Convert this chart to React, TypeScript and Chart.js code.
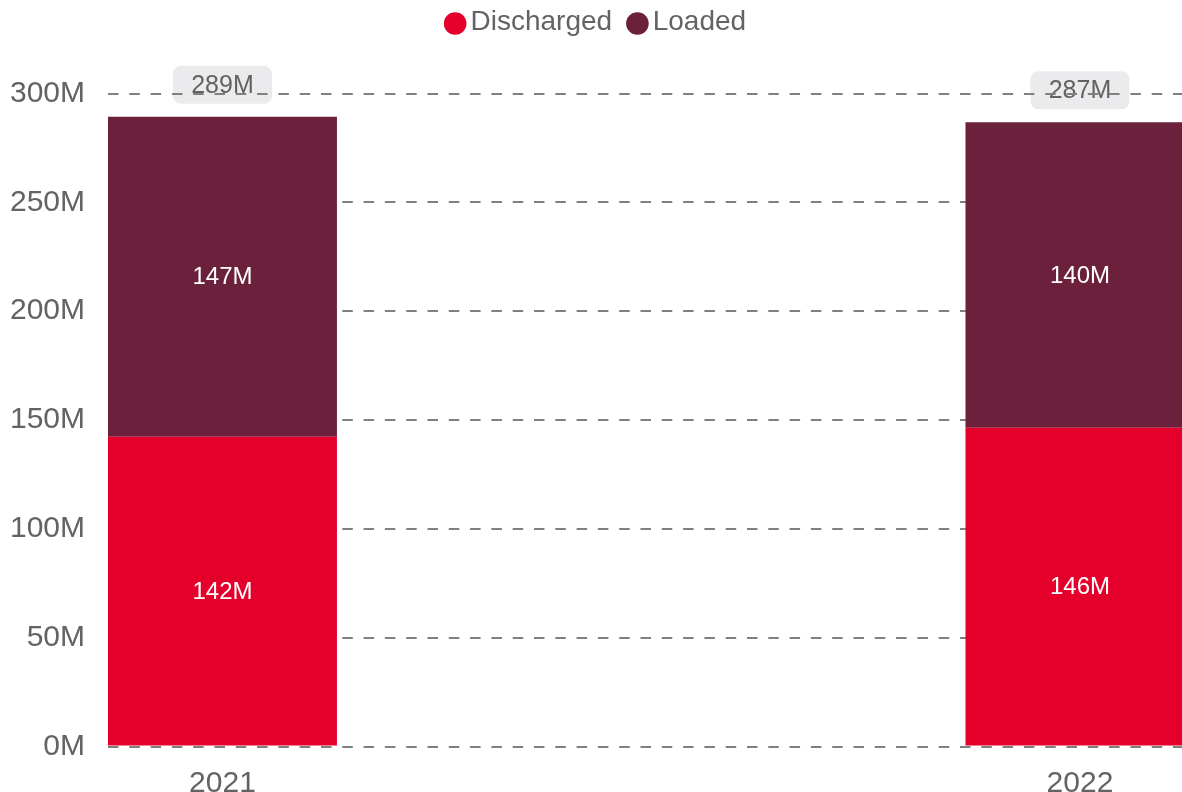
import React, { useEffect, useRef } from 'react';
import { Chart, registerables } from 'chart.js';
Chart.register(...registerables);

const years = [2021, 2022];
const discharged = [142.3, 146.4];
const loaded = [147.0, 140.4];
const seriesNames = ['Discharged', 'Loaded'];
const seriesColors = ['#e4002b', '#6b213c'];
const yMin = 0;
const yMax = 300;
const yStep = 50;

const FONT = '"Liberation Sans", Arial, Helvetica, sans-serif';
const TEXT = '#636363';
const fmt = (v: number) => `${Math.round(v)}M`;

export default function App() {
  const ref = useRef<HTMLCanvasElement>(null);

  useEffect(() => {
    document.body.style.margin = '0';
    Chart.defaults.font.family = FONT;

    const labelsPlugin = {
      id: 'customLabels',
      beforeDraw(chart: any) {
        const ctx = chart.ctx;
        const metaTop = chart.getDatasetMeta(chart.data.datasets.length - 1);
        ctx.save();
        ctx.font = `25px ${FONT}`;
        ctx.textAlign = 'center';
        ctx.textBaseline = 'middle';
        years.forEach((_, i) => {
          const total = discharged[i] + loaded[i];
          const el = metaTop.data[i];
          if (!el) return;
          const cx = el.x;
          const w = 99;
          const h = 38;
          const bx = cx - w / 2;
          const by = el.y - 13 - h;
          ctx.fillStyle = '#ebebed';
          ctx.beginPath();
          ctx.roundRect(bx, by, w, h, 8);
          ctx.fill();
          ctx.fillStyle = TEXT;
          ctx.fillText(fmt(total), cx, by + h / 2 + 1);
        });
        ctx.restore();
      },
      afterDatasetsDraw(chart: any) {
        const ctx = chart.ctx;
        ctx.save();
        ctx.font = `24px ${FONT}`;
        ctx.textAlign = 'center';
        ctx.textBaseline = 'middle';
        ctx.fillStyle = '#ffffff';
        chart.data.datasets.forEach((ds: any, di: number) => {
          const meta = chart.getDatasetMeta(di);
          meta.data.forEach((el: any, i: number) => {
            const v = ds.data[i];
            ctx.fillText(fmt(v), el.x, (el.y + el.base) / 2 + 1);
          });
        });
        ctx.restore();
      },
      afterDraw(chart: any) {
        const ctx = chart.ctx;
        ctx.save();
        ctx.font = `28px ${FONT}`;
        ctx.textBaseline = 'middle';
        ctx.textAlign = 'left';
        const r = 11.3;
        const gapText = 4;
        const gapItem = 14;
        const widths = seriesNames.map((n) => ctx.measureText(n).width);
        let total = 0;
        widths.forEach((w, i) => {
          total += 2 * r + gapText + w + (i > 0 ? gapItem : 0);
        });
        let x = (chart.width - total) / 2 + 4;
        seriesNames.forEach((n, i) => {
          ctx.fillStyle = seriesColors[i];
          ctx.beginPath();
          ctx.arc(x + r, 23.5, r, 0, Math.PI * 2);
          ctx.fill();
          ctx.fillStyle = TEXT;
          ctx.fillText(n, x + 2 * r + gapText, 22.5);
          x += 2 * r + gapText + widths[i] + gapItem;
        });
        ctx.restore();
      },
    };

    const chart = new Chart(ref.current as HTMLCanvasElement, {
      type: 'bar',
      data: {
        labels: years,
        datasets: [
          {
            label: seriesNames[0],
            data: discharged,
            backgroundColor: seriesColors[0],
            categoryPercentage: 1,
            barPercentage: 0.267,
          },
          {
            label: seriesNames[1],
            data: loaded,
            backgroundColor: seriesColors[1],
            categoryPercentage: 1,
            barPercentage: 0.267,
          },
        ],
      },
      options: {
        animation: false,
        responsive: true,
        maintainAspectRatio: false,
        layout: { padding: { top: 93.5, left: 0, right: 0, bottom: 0 } },
        plugins: {
          legend: { display: false },
          tooltip: { enabled: false },
        },
        scales: {
          x: {
            type: 'linear',
            stacked: true,
            bounds: 'data',
            min: years[0] - 0.1335,
            max: years[years.length - 1] + 0.119,
            offset: false,
            grid: { display: false },
            border: { display: false },
            afterBuildTicks: (s: any) => {
              s.ticks = years.map((v) => ({ value: v }));
            },
            afterFit: (s: any) => {
              s.height = 45.5;
            },
            ticks: {
              padding: 11,
              color: TEXT,
              font: { size: 30 },
              maxRotation: 0,
              autoSkip: false,
              callback: (v: any) => String(v),
            },
          },
          y: {
            stacked: true,
            min: yMin,
            max: yMax,
            afterFit: (s: any) => {
              s.width = 108;
            },
            ticks: {
              stepSize: yStep,
              padding: 23,
              color: TEXT,
              font: { size: 30 },
              callback: (v: any) => `${v}M`,
            },
            grid: { color: '#808080', lineWidth: 2, drawTicks: false },
            border: { display: false, dash: [10.5, 10.8] },
          },
        },
      },
      plugins: [labelsPlugin],
    } as any);

    return () => chart.destroy();
  }, []);

  return (
    <div style={{ position: 'fixed', left: 0, top: 0, width: '100vw', height: '100vh' }}>
      <canvas ref={ref} />
    </div>
  );
}
